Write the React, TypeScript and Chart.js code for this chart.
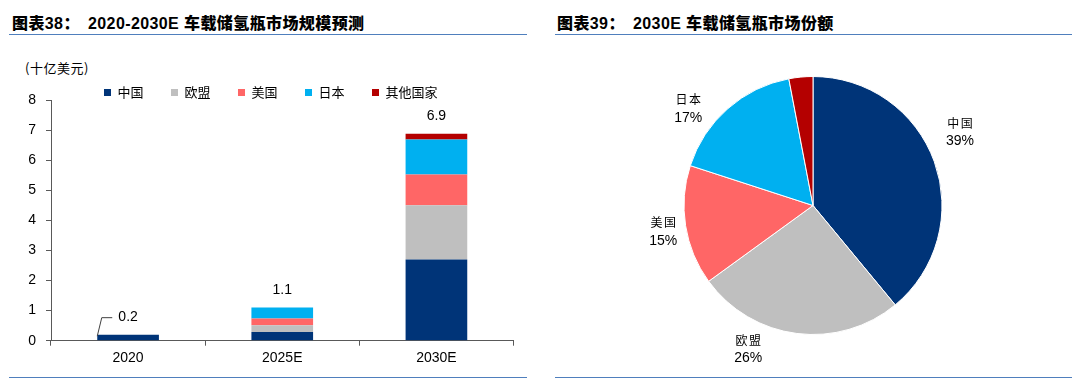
import React, { useEffect, useRef } from "react";
import { Chart, registerables } from "chart.js";

Chart.register(...registerables);

// ---------- data ----------
const years = ["2020", "2025E", "2030E"];
const regions = ["中国", "欧盟", "美国", "日本", "其他国家"];
const chinaValues = [0.2, 0.29, 2.7];
const euValues = [0, 0.22, 1.8];
const usValues = [0, 0.23, 1.02];
const japanValues = [0, 0.36, 1.17];
const otherValues = [0, 0, 0.19];
const share2030 = [39, 26, 15, 17, 3];
const yMin = 0;
const yMax = 8;
const yStep = 1;

const leftTitleHead = "图表38：";
const leftTitleBody = "2020-2030E 车载储氢瓶市场规模预测";
const rightTitleHead = "图表39：";
const rightTitleBody = "2030E 车载储氢瓶市场份额";
const unitLabel = "(十亿美元)";

// ---------- styles ----------
const regionColors = ["#003478", "#BFBFBF", "#FF6666", "#00B0F0", "#B40000"];
const axisColor = "#595959";
const ruleColor = "#4F7FBD";
const latin = "'Liberation Sans', Arial, sans-serif";
const cjk = "'Noto Sans CJK SC', sans-serif";

const totalLabelPlugin = {
  id: "totalLabels",
  afterDatasetsDraw(chart: any, _args: any, opts: any) {
    const { ctx } = chart;
    const xs = chart.scales.x;
    const ys = chart.scales.y;
    const n = chart.data.labels.length;
    ctx.save();
    ctx.font = `14px ${latin}`;
    ctx.fillStyle = "#000";
    ctx.textAlign = "center";
    ctx.textBaseline = "middle";
    for (let i = 0; i < n; i++) {
      let total = 0;
      chart.data.datasets.forEach((ds: any) => (total += ds.data[i]));
      const px = xs.getPixelForValue(i);
      const top = ys.getPixelForValue(total);
      const ly = top - opts.offset;
      ctx.fillText(total.toFixed(1), px, ly);
      if (opts.leaderFor.includes(i)) {
        const bar = chart.getDatasetMeta(0).data[i];
        const left = bar.x - bar.width / 2;
        ctx.strokeStyle = "#404040";
        ctx.lineWidth = 1;
        ctx.beginPath();
        ctx.moveTo(left, top + 1.5);
        ctx.lineTo(left + 4.5, ly + 0.5);
        ctx.lineTo(left + 15, ly + 0.5);
        ctx.stroke();
      }
    }
    ctx.restore();
  },
};

const pieLabelPlugin = {
  id: "pieLabels",
  afterDatasetsDraw(chart: any, _args: any, opts: any) {
    const { ctx } = chart;
    const meta = chart.getDatasetMeta(0);
    const data = chart.data.datasets[0].data;
    ctx.save();
    ctx.textAlign = "center";
    ctx.textBaseline = "middle";
    ctx.fillStyle = "#000";
    meta.data.forEach((arc: any, i: number) => {
      if (data[i] < opts.minValue) return;
      const p = arc.getProps(["x", "y", "startAngle", "endAngle"], true);
      const ang = (p.startAngle + p.endAngle) / 2 + (opts.angleNudge[i] * Math.PI) / 180;
      const d = opts.distance[i];
      const cx = p.x + Math.cos(ang) * d;
      const cy = p.y + Math.sin(ang) * d;
      ctx.font = `12px ${cjk}`;
      (ctx as any).letterSpacing = "1.5px";
      ctx.fillText(chart.data.labels[i], cx + 0.75, cy - 9);
      (ctx as any).letterSpacing = "0px";
      ctx.font = `14px ${latin}`;
      ctx.fillText(`${data[i]}%`, cx, cy + 9);
    });
    ctx.restore();
  },
};

export default function App() {
  const barRef = useRef<HTMLCanvasElement>(null);
  const pieRef = useRef<HTMLCanvasElement>(null);

  useEffect(() => {
    const series = [chinaValues, euValues, usValues, japanValues, otherValues];
    const bar = new Chart(barRef.current as HTMLCanvasElement, {
      type: "bar",
      data: {
        labels: years,
        datasets: series.map((d, i) => ({
          label: regions[i],
          data: d,
          backgroundColor: regionColors[i],
          borderWidth: 0,
          barPercentage: 0.4,
          categoryPercentage: 1,
          stack: "total",
        })),
      },
      options: {
        animation: false,
        responsive: false,
        maintainAspectRatio: false,
        layout: { padding: { left: 28, right: 26.5, top: 58.5, bottom: 12.3 } },
        plugins: {
          legend: {
            position: "top",
            maxHeight: 41.5,
            labels: {
              boxWidth: 7,
              boxHeight: 7,
              padding: 27.5,
              color: "#000",
              font: { family: cjk, size: 13 },
            },
          },
          tooltip: { enabled: false },
          totalLabels: { offset: 17.5, leaderFor: [0] },
        } as any,
        scales: {
          x: {
            stacked: true,
            grid: {
              display: true,
              drawOnChartArea: false,
              drawTicks: true,
              tickLength: 5,
              color: axisColor,
              offset: true,
            },
            border: { color: axisColor, width: 1 },
            ticks: { color: "#000", font: { family: latin, size: 14 }, padding: 4 },
            afterFit: (s: any) => {
              s.height = 30;
            },
          },
          y: {
            stacked: true,
            min: yMin,
            max: yMax,
            ticks: { stepSize: yStep, color: "#000", font: { family: latin, size: 14 }, padding: 10 },
            grid: { drawOnChartArea: false, tickLength: 5, color: axisColor },
            border: { color: axisColor, width: 1 },
            afterFit: (s: any) => {
              s.width = 23;
            },
          },
        },
      },
      plugins: [totalLabelPlugin],
    });

    const pie = new Chart(pieRef.current as HTMLCanvasElement, {
      type: "pie",
      data: {
        labels: regions,
        datasets: [
          {
            data: share2030,
            backgroundColor: regionColors,
            borderColor: "#FFFFFF",
            borderWidth: 1,
          },
        ],
      },
      options: {
        animation: false,
        responsive: false,
        maintainAspectRatio: false,
        layout: { padding: { left: 143.5, right: 136.5, top: 76, bottom: 48 } },
        plugins: {
          legend: { display: false },
          tooltip: { enabled: false },
          pieLabels: {
            minValue: 5,
            angleNudge: [-6.6, 17, -1, -10.8, 0],
            distance: [164, 158, 152, 158, 0],
          },
        } as any,
      },
      plugins: [pieLabelPlugin],
    });

    return () => {
      bar.destroy();
      pie.destroy();
    };
  }, []);

  const titleStyle: React.CSSProperties = {
    position: "absolute",
    top: 15,
    lineHeight: "18px",
    fontSize: 16,
    fontWeight: 900,
    fontFamily: `${latin.split(",")[0]}, ${cjk}`,
    letterSpacing: "0.4px",
    color: "#000",
    whiteSpace: "nowrap",
  };
  const rule = (left: number, width: number, top: number): React.CSSProperties => ({
    position: "absolute",
    left,
    width,
    top,
    height: 1.5,
    background: ruleColor,
  });

  return (
    <div
      style={{
        position: "fixed",
        left: 0,
        top: 0,
        width: 1079,
        height: 383,
        background: "#FFFFFF",
        overflow: "hidden",
      }}
    >
      <div style={{ ...titleStyle, left: 12 }}>{leftTitleHead}</div>
      <div style={{ ...titleStyle, left: 88 }}>{leftTitleBody}</div>
      <div style={{ ...titleStyle, left: 557 }}>{rightTitleHead}</div>
      <div style={{ ...titleStyle, left: 633 }}>{rightTitleBody}</div>
      <div style={rule(9, 518, 33.5)} />
      <div style={rule(555, 517, 33.5)} />
      <div style={rule(9, 518, 376.5)} />
      <div style={rule(555, 517, 376.5)} />
      <div
        style={{
          position: "absolute",
          left: 25,
          top: 60,
          lineHeight: "16px",
          fontSize: 13,
          fontFamily: `${cjk}`,
          letterSpacing: "0.5px",
          color: "#000",
          whiteSpace: "nowrap",
        }}
      >
        {unitLabel}
      </div>
      <canvas
        ref={barRef}
        width={540}
        height={383}
        style={{ position: "absolute", left: 0, top: 0 }}
      />
      <canvas
        ref={pieRef}
        width={539}
        height={383}
        style={{ position: "absolute", left: 540, top: 0 }}
      />
    </div>
  );
}
